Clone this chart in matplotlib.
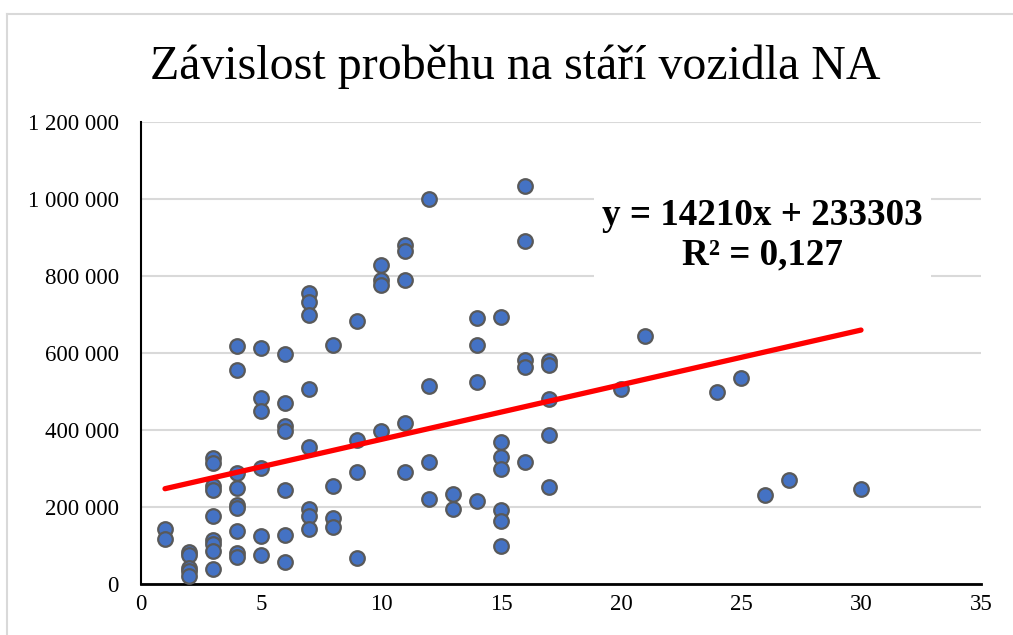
import matplotlib
matplotlib.use("Agg")
import matplotlib.pyplot as plt
from matplotlib.ticker import FuncFormatter, MultipleLocator
from matplotlib.lines import Line2D

plt.rcParams['font.family'] = ['Liberation Serif', 'DejaVu Serif']

# Data: vehicle age (years) and mileage (km)
age = (
    [1] * 2 + [2] * 5 + [3] * 9 + [4] * 9 + [5] * 6 + [6] * 7 + [7] * 8 +
    [8] * 4 + [9] * 4 + [10] * 4 + [11] * 5 + [12] * 4 + [13] * 2 +
    [14] * 4 + [15] * 7 + [16] * 5 + [17] * 5 +
    [20, 21, 24, 25, 26, 27, 30]
)
mileage = [
    143000, 117000,
    82000, 75000, 42000, 35000, 22000,
    327000, 313000, 255000, 243000, 177000, 115000, 103000, 86000, 40000,
    617000, 556000, 289000, 250000, 206000, 198000, 137000, 80000, 70000,
    612000, 484000, 449000, 302000, 124000, 75000,
    598000, 469000, 411000, 398000, 244000, 126000, 57000,
    757000, 733000, 700000, 507000, 356000, 196000, 176000, 143000,
    620000, 254000, 172000, 148000,
    683000, 373000, 291000, 68000,
    829000, 789000, 776000, 398000,
    881000, 865000, 790000, 418000, 291000,
    1000000, 513000, 318000, 222000,
    235000, 194000,
    691000, 620000, 524000, 215000,
    693000, 368000, 330000, 300000, 191000, 164000, 100000,
    1035000, 890000, 581000, 564000, 316000,
    580000, 570000, 480000, 386000, 251000,
    507000, 643000, 499000, 535000, 231000, 270000, 246000,
]

# Trendline parameters as shown in the chart label
slope = 14210
intercept = 233303
r_squared = "0,127"

title = "Závislost proběhu na stáří vozidla NA"

fig = plt.figure(figsize=(10.13, 6.35), dpi=100)
ax = fig.add_axes([141 / 1013, 51 / 635, 840 / 1013, 462 / 635])

ax.plot(age, mileage, linestyle='none', marker='o', markersize=10.5,
        markerfacecolor='#4472C4', markeredgecolor='#595959',
        markeredgewidth=1.6, zorder=3)

x0, x1 = min(age), max(age)
ax.plot([x0, x1], [slope * x0 + intercept, slope * x1 + intercept],
        color='#FF0000', linewidth=3.8, solid_capstyle='round', zorder=4)

ax.set_xlim(0, 35)
ax.set_ylim(0, 1200000)
ax.xaxis.set_major_locator(MultipleLocator(5))
ax.yaxis.set_major_locator(MultipleLocator(200000))
ax.yaxis.set_major_formatter(FuncFormatter(lambda v, p: f"{v:,.0f}".replace(",", " ")))

ax.grid(axis='y', color='#D9D9D9', linewidth=1.5)
ax.set_axisbelow(True)
for s in ['top', 'right']:
    ax.spines[s].set_visible(False)
ax.spines['left'].set_color('black')
ax.spines['left'].set_linewidth(1.5)
ax.spines['bottom'].set_color('black')
ax.spines['bottom'].set_linewidth(2.0)
ax.tick_params(axis='both', length=0, labelsize=16.5, colors='black')
ax.tick_params(axis='y', pad=16)
ax.tick_params(axis='x', pad=7)

fig.text(515 / 1013, 1 - 67 / 635, title, ha='center', va='center',
         fontsize=34.5, color='black')

ax.text(0.740, 0.755, f"y = {slope}x + {intercept}\nR² = {r_squared}",
        transform=ax.transAxes, ha='center', va='center', fontsize=26.7,
        fontweight='bold', color='black', linespacing=1.15, zorder=5,
        bbox=dict(facecolor='white', edgecolor='none', pad=6))

# Chart area border (light gray)
fig.add_artist(Line2D([7 / 1013, 7 / 1013], [0, 1 - 14 / 635],
                      color='#D9D9D9', linewidth=1.5))
fig.add_artist(Line2D([7 / 1013, 1], [1 - 14 / 635, 1 - 14 / 635],
                      color='#D9D9D9', linewidth=1.5))

fig.savefig("out.png", dpi=100)
